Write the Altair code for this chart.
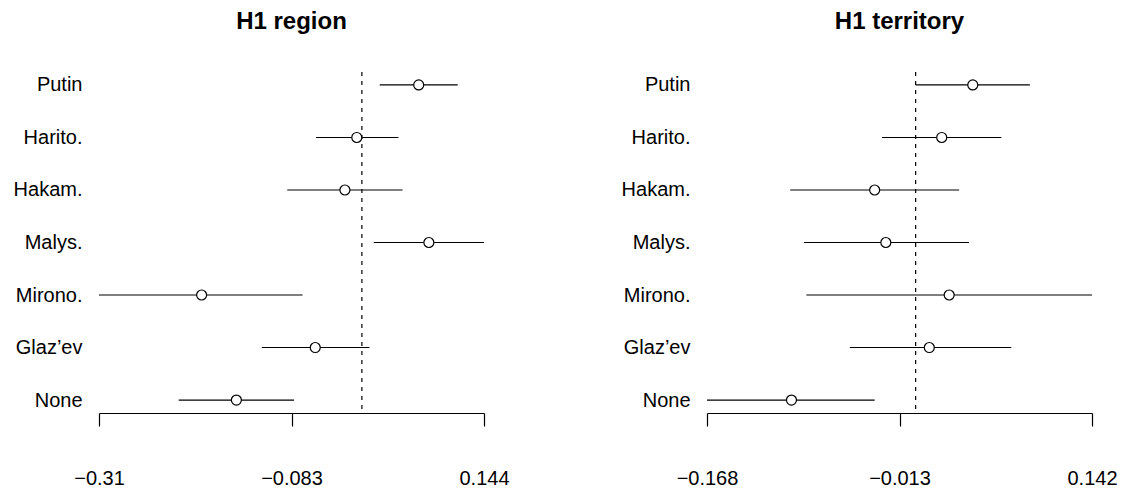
import altair as alt
import pandas as pd

categories = ["Putin", "Harito.", "Hakam.", "Malys.", "Mirono.", "Glaz\u2019ev", "None"]

est_region = [0.067, -0.006, -0.020, 0.079, -0.189, -0.055, -0.148]
lo_region = [0.021, -0.054, -0.088, 0.014, -0.310, -0.118, -0.216]
hi_region = [0.113, 0.043, 0.048, 0.144, -0.070, 0.009, -0.080]
ticks_region = [-0.31, -0.083, 0.144]

est_terr = [0.046, 0.021, -0.033, -0.024, 0.027, 0.011, -0.100]
lo_terr = [0.000, -0.027, -0.101, -0.090, -0.088, -0.053, -0.168]
hi_terr = [0.092, 0.069, 0.035, 0.043, 0.142, 0.077, -0.033]
ticks_terr = [-0.168, -0.013, 0.142]

FONT = "Liberation Sans"


def panel(title, est, lo, hi, ticks):
    df = pd.DataFrame({"cat": categories, "est": est, "lo": lo, "hi": hi})
    xs = alt.Scale(domain=[ticks[0], ticks[-1]], nice=False, zero=False, padding=0)
    ys = alt.Scale(type="point", domain=categories, padding=0.247)
    xaxis = alt.Axis(
        values=ticks,
        labelExpr="replace(format(datum.value, '.3~f'), '-', '\u2212')",
        title=None, grid=False, domain=True, domainColor="black", domainWidth=1.2,
        ticks=True, tickSize=13, tickColor="black", tickWidth=1.2,
        labelPadding=42, labelFontSize=20, labelFont=FONT, labelColor="black",
        labelFlush=False, labelOverlap=False,
    )
    yaxis = alt.Axis(
        title=None, grid=False, domain=False, ticks=False,
        labelPadding=17, labelFontSize=20, labelFont=FONT, labelColor="black",
    )
    base = alt.Chart(df)
    ci = base.mark_rule(color="black", strokeWidth=1.2).encode(
        x=alt.X("lo:Q", scale=xs, axis=xaxis),
        x2="hi:Q",
        y=alt.Y("cat:N", scale=ys, axis=yaxis, sort=categories),
    )
    pts = base.mark_circle(size=100, color="white", stroke="black", strokeWidth=1.2, opacity=1).encode(
        x="est:Q",
        y=alt.Y("cat:N", sort=categories),
    )
    zero = alt.Chart(pd.DataFrame({"z": [0.0]})).mark_rule(
        color="black", strokeWidth=1.2, strokeDash=[4, 5]
    ).encode(x="z:Q")
    return alt.layer(ci, zero, pts).properties(
        width=385, height=341,
        title=alt.TitleParams(title, fontSize=24, font=FONT, fontWeight="bold",
                              anchor="middle", offset=37, color="black"),
    )


left = panel("H1 region", est_region, lo_region, hi_region, ticks_region)
right = panel("H1 territory", est_terr, lo_terr, hi_terr, ticks_terr)

chart = alt.hconcat(left, right, spacing=223, bounds="flush").configure_view(
    stroke=None
).properties(padding={"left": 5, "top": 2, "right": 5, "bottom": 0})

chart.save("out.html", embed_options={"renderer": "svg", "actions": False})
